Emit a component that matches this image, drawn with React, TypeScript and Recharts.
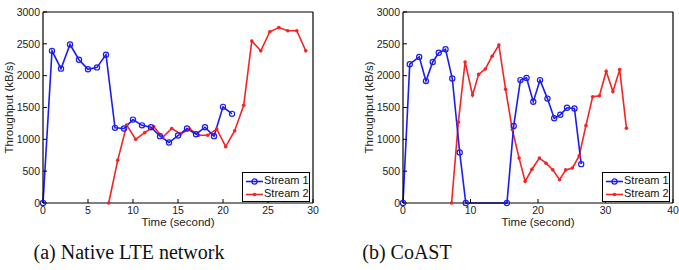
import { LineChart, Line, XAxis, YAxis, Legend } from "recharts";

// (a) Native LTE network
const nativeTime1 = [0, 1, 2, 3, 4, 5, 6, 7, 8, 9, 10, 11, 12, 13, 14, 15, 16, 17, 18, 19, 20, 21];
const nativeStream1 = [0, 2390, 2110, 2490, 2250, 2100, 2130, 2330, 1180, 1170, 1310, 1220, 1190, 1050, 950, 1060, 1170, 1080, 1190, 1050, 1510, 1400];
const nativeTime2 = [7.3, 8.3, 9.3, 10.3, 11.3, 12.3, 13.3, 14.3, 15.3, 16.3, 17.3, 18.3, 19.3, 20.3, 21.3, 22.3, 23.2, 24.2, 25.2, 26.2, 27.2, 28.2, 29.2];
const nativeStream2 = [0, 670, 1225, 1000, 1105, 1200, 1030, 1170, 1085, 1160, 1065, 1065, 1160, 885, 1135, 1535, 2545, 2390, 2690, 2755, 2705, 2705, 2390];

// (b) CoAST
const coastTime1 = [0, 1, 2.4, 3.4, 4.4, 5.3, 6.3, 7.3, 8.4, 9.3, 15.4, 16.4, 17.4, 18.3, 19.3, 20.3, 21.4, 22.4, 23.3, 24.3, 25.4, 26.4];
const coastStream1 = [0, 2180, 2295, 1915, 2215, 2360, 2415, 1955, 795, 0, 0, 1210, 1930, 1965, 1590, 1930, 1640, 1330, 1385, 1495, 1485, 610];
const coastTime2 = [7.2, 8.2, 9.2, 10.3, 11.2, 12.2, 13.2, 14.2, 15.2, 16.2, 17.2, 18.1, 19.1, 20.2, 21.2, 22.2, 23.2, 24.1, 25.1, 26.1, 27.1, 28.1, 29.1, 30.1, 31.1, 32.1, 33.1];
const coastStream2 = [0, 1270, 2215, 1695, 2020, 2105, 2305, 2480, 1785, 1150, 705, 340, 530, 705, 625, 520, 365, 520, 550, 740, 1215, 1670, 1685, 2070, 1750, 2095, 1175];

const nativeTicks = [0, 5, 10, 15, 20, 25, 30];
const coastTicks = [0, 10, 20, 30, 40];
const yTicks = [0, 500, 1000, 1500, 2000, 2500, 3000];
const seriesNames = ["Stream 1", "Stream 2"];

const BLUE = "#1c1cf0";
const RED = "#f42424";
const FONT = "'Liberation Sans', Arial, sans-serif";
const TEXT = "#222";

function zip(t: number[], v: number[]) {
  return t.map((x, i) => ({ t: x, v: v[i] }));
}

function YTitle(props: any) {
  const vb = props.viewBox ?? { x: 0, y: 12, width: 43, height: 191 };
  const x = vb.x + 9;
  const y = vb.y + vb.height / 2;
  return (
    <text
      x={x}
      y={y}
      transform={`rotate(-90 ${x} ${y})`}
      textAnchor="middle"
      dominantBaseline="central"
      fontSize={11.5}
      fontFamily={FONT}
      fill={TEXT}
    >
      Throughput (kB/s)
    </text>
  );
}

function XTitle(props: any) {
  const vb = props.viewBox ?? { x: 43, y: 203, width: 270, height: 27 };
  return (
    <text
      x={vb.x + vb.width / 2}
      y={vb.y + 23}
      textAnchor="middle"
      fontSize={11.5}
      fontFamily={FONT}
      fill={TEXT}
    >
      Time (second)
    </text>
  );
}

function Icon({ color, circle }: { color: string; circle: boolean }) {
  return (
    <svg width={17} height={9} style={{ display: "inline-block", verticalAlign: "middle", marginRight: 1 }}>
      <line x1={0} y1={4.5} x2={17} y2={4.5} stroke={color} strokeWidth={1.6} />
      {circle ? (
        <circle cx={8.5} cy={4.5} r={2.6} stroke={color} strokeWidth={1.2} fill="none" />
      ) : (
        <circle cx={8.5} cy={4.5} r={1.8} fill={color} />
      )}
    </svg>
  );
}

function StreamLegend() {
  return (
    <div
      style={{
        boxSizing: "border-box",
        width: 68,
        height: 30,
        border: "1.5px solid #000",
        background: "#fff",
        padding: "1px 0 0 3px",
        fontFamily: FONT,
        fontSize: 11,
        lineHeight: "13px",
        color: "#111",
        whiteSpace: "nowrap",
      }}
    >
      <div>
        <Icon color={BLUE} circle={true} />
        {seriesNames[0]}
      </div>
      <div>
        <Icon color={RED} circle={false} />
        {seriesNames[1]}
      </div>
    </div>
  );
}

function ThroughputChart({
  s1,
  s2,
  xMax,
  xTicks,
}: {
  s1: { t: number; v: number }[];
  s2: { t: number; v: number }[];
  xMax: number;
  xTicks: number[];
}) {
  const tickStyle = { fontSize: 10.5, fill: TEXT, fontFamily: FONT };
  return (
    <LineChart width={320} height={230} margin={{ top: 11, right: 6, bottom: 0, left: 0 }}>
      <XAxis
        dataKey="t"
        type="number"
        domain={[0, xMax]}
        ticks={xTicks}
        interval={0}
        height={27}
        tickSize={-4}
        tickMargin={8}
        tick={tickStyle}
        axisLine={{ stroke: "#000", strokeWidth: 1.2 }}
        tickLine={{ stroke: "#000" }}
        label={<XTitle />}
      />
      <XAxis
        xAxisId="top"
        orientation="top"
        dataKey="t"
        type="number"
        domain={[0, xMax]}
        ticks={xTicks}
        interval={0}
        height={1}
        tickSize={-4}
        tick={false}
        axisLine={{ stroke: "#000", strokeWidth: 1.2 }}
        tickLine={{ stroke: "#000" }}
      />
      <YAxis
        type="number"
        domain={[0, 3000]}
        ticks={yTicks}
        interval={0}
        width={43}
        tickSize={-4}
        tickMargin={7}
        tick={tickStyle}
        axisLine={{ stroke: "#000", strokeWidth: 1.2 }}
        tickLine={{ stroke: "#000" }}
        label={<YTitle />}
      />
      <YAxis
        yAxisId="right"
        orientation="right"
        type="number"
        domain={[0, 3000]}
        ticks={yTicks}
        interval={0}
        width={1}
        tickSize={-4}
        tick={false}
        axisLine={{ stroke: "#000", strokeWidth: 1.2 }}
        tickLine={{ stroke: "#000" }}
      />
      <Line
        data={s2}
        dataKey="v"
        name={seriesNames[1]}
        type="linear"
        stroke={RED}
        strokeWidth={1.6}
        dot={{ r: 1.8, fill: RED, stroke: RED, strokeWidth: 0 }}
        activeDot={false}
        isAnimationActive={false}
      />
      <Line
        data={s1}
        dataKey="v"
        name={seriesNames[0]}
        type="linear"
        stroke={BLUE}
        strokeWidth={1.6}
        dot={{ r: 2.6, fill: "none", stroke: BLUE, strokeWidth: 1.2 }}
        activeDot={false}
        isAnimationActive={false}
      />
      <Legend
        layout="vertical"
        align="center"
        verticalAlign="middle"
        content={<StreamLegend />}
        wrapperStyle={{ left: 242, top: 172, width: 68, height: 30 }}
      />
    </LineChart>
  );
}

const captionStyle: React.CSSProperties = {
  position: "absolute",
  top: 242,
  width: 260,
  textAlign: "center",
  fontFamily: "'Liberation Serif', 'Times New Roman', serif",
  fontSize: 20,
  lineHeight: "20px",
  color: "#111",
  whiteSpace: "nowrap",
};

export default function App() {
  return (
    <div style={{ position: "absolute", left: 0, top: 0, width: 679, height: 270, background: "#fff", overflow: "hidden" }}>
      <div style={{ position: "absolute", left: 0, top: 0 }}>
        <ThroughputChart s1={zip(nativeTime1, nativeStream1)} s2={zip(nativeTime2, nativeStream2)} xMax={30} xTicks={nativeTicks} />
      </div>
      <div style={{ position: "absolute", left: 360, top: 0 }}>
        <ThroughputChart s1={zip(coastTime1, coastStream1)} s2={zip(coastTime2, coastStream2)} xMax={40} xTicks={coastTicks} />
      </div>
      <div style={{ ...captionStyle, left: 129 - 130 }}>(a) Native LTE network</div>
      <div style={{ ...captionStyle, left: 407 - 130 }}>(b) CoAST</div>
    </div>
  );
}
